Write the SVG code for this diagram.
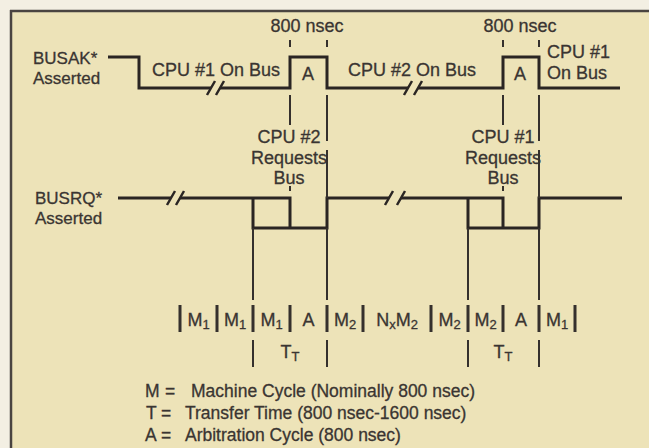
<svg xmlns="http://www.w3.org/2000/svg" width="649" height="448" viewBox="0 0 649 448">
<style>
text{font-family:"Liberation Sans",Arial,sans-serif;font-size:18px;fill:#3a3532;stroke:#3a3532;stroke-width:0.3}
.m{text-anchor:middle}
.sub{font-size:13px}
.lg{font-size:17.5px}
.two{font-size:17px}
.wave{fill:none;stroke:#2a2523;stroke-width:3;stroke-linejoin:miter;stroke-linecap:butt}
.guide{fill:none;stroke:#35302d;stroke-width:2}
.bar{fill:none;stroke:#35302d;stroke-width:3}
.brk{stroke:#2a2523;stroke-width:2.5}
</style>
<rect x="0" y="0" width="649" height="448" fill="#f3efe3"/>
<rect x="11" y="11" width="640" height="440" fill="#ede3b8"/>
<path d="M10 11H649M11 10V448" fill="none" stroke="#4a4440" stroke-width="2.5"/>

<g id="busak">
<text class="two" x="33" y="64">BUSAK*</text>
<text class="two" x="33" y="84">Asserted</text>
<path class="wave" d="M108 57H139V88H211M220 88H290V57H327V88H408M418 88H503V57H539V88H620"/>
<path class="brk" d="M207 95L215 81M216 95L224 81M404 95L412 81M414 95L422 81"/>
<text x="152" y="76">CPU #1 On Bus</text>
<text x="348" y="76">CPU #2 On Bus</text>
<text class="m" x="308" y="80">A</text>
<text class="m" x="520" y="80">A</text>
<text x="547" y="58">CPU #1</text>
<text x="547" y="79">On Bus</text>
<text class="m" x="307" y="32">800 nsec</text>
<text class="m" x="520" y="32">800 nsec</text>
</g>

<g id="busrq">
<text class="two" x="35" y="204">BUSRQ*</text>
<text class="two" x="35" y="224">Asserted</text>
<path class="wave" d="M118 198H171M180 198H290V228M253 198V228H327V198H389M401 198H503V228M468 198V228H539V198H622"/>
<path class="brk" d="M167 205L175 191M176 205L184 191M385 205L393 191M397 205L405 191"/>
</g>

<g id="requests">
<text class="m" x="289" y="143">CPU #2</text>
<text class="m" x="289" y="164">Requests</text>
<text class="m" x="289" y="184">Bus</text>
<text class="m" x="503" y="143">CPU #1</text>
<text class="m" x="503" y="164">Requests</text>
<text class="m" x="503" y="184">Bus</text>
</g>

<g id="connectors">
<path class="guide" d="M290 40V47M327 40V47M503 40V47M539 40V47"/>
<path class="guide" d="M290 95V125M290 186V191M327 95V141M327 150V198M503 95V125M503 186V191M539 95V141M539 150V198"/>
<path class="guide" d="M253 228V300M327 228V300M468 228V300M539 228V300"/>
<path class="bar" d="M180 305V332M217 305V332M253 305V332M290 305V332M327 305V332M363 305V332M431 305V332M468 305V332M503 305V332M539 305V332M575 305V332"/>
<path class="guide" d="M253 340V367M327 340V367M468 340V367M539 340V367" stroke-width="2.5"/>
</g>

<g id="cycles">
<text class="m" x="198.5" y="326">M<tspan class="sub" dy="3">1</tspan></text>
<text class="m" x="235" y="326">M<tspan class="sub" dy="3">1</tspan></text>
<text class="m" x="271.5" y="326">M<tspan class="sub" dy="3">1</tspan></text>
<text class="m" x="308.5" y="326">A</text>
<text class="m" x="345" y="326">M<tspan class="sub" dy="3">2</tspan></text>
<text class="m" x="397" y="326">N<tspan class="sub" dy="3">x</tspan><tspan dy="-3">M</tspan><tspan class="sub" dy="3">2</tspan></text>
<text class="m" x="449.5" y="326">M<tspan class="sub" dy="3">2</tspan></text>
<text class="m" x="485.5" y="326">M<tspan class="sub" dy="3">2</tspan></text>
<text class="m" x="521" y="326">A</text>
<text class="m" x="557" y="326">M<tspan class="sub" dy="3">1</tspan></text>
<text class="m" x="290" y="358">T<tspan class="sub" dy="3">T</tspan></text>
<text class="m" x="503" y="358">T<tspan class="sub" dy="3">T</tspan></text>
</g>

<g id="legend">
<text class="lg" x="145" y="397">M<tspan x="165">=</tspan><tspan x="191">Machine Cycle (Nominally 800 nsec)</tspan></text>
<text class="lg" x="146" y="419">T<tspan x="161">=</tspan><tspan x="185">Transfer Time (800 nsec-1600 nsec)</tspan></text>
<text class="lg" x="145" y="441">A<tspan x="161">=</tspan><tspan x="185">Arbitration Cycle (800 nsec)</tspan></text>
</g>
</svg>
